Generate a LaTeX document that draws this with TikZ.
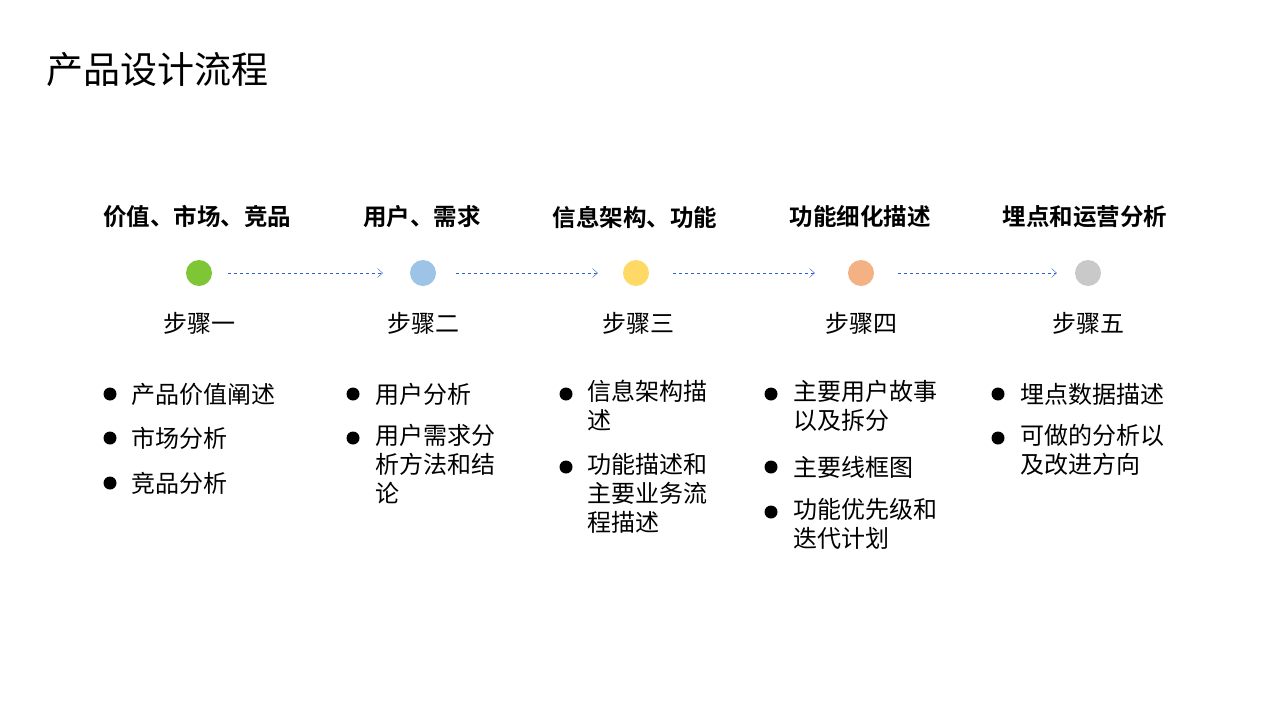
\documentclass[tikz,border=0pt]{standalone}
\usepackage{fontspec}
\setmainfont{Noto Sans CJK SC}
\newfontfamily\cjkbold{Noto Sans CJK SC Bold}
\usetikzlibrary{arrows.meta}
\definecolor{dotgreen}{HTML}{7EC636}
\definecolor{dotblue}{HTML}{9DC3E6}
\definecolor{dotyellow}{HTML}{FFD966}
\definecolor{dotorange}{HTML}{F4B183}
\definecolor{dotgray}{HTML}{C9C9C9}
\definecolor{flowblue}{HTML}{2F5FD0}
\tikzset{
  stepdot/.style={circle, minimum size=26pt, inner sep=0pt},
  heading/.style={font=\cjkbold\fontsize{23.5}{28}\selectfont},
  steplabel/.style={font=\fontsize{24}{28}\selectfont},
  item/.style={anchor=west, font=\fontsize{24}{29}\selectfont, inner sep=0pt},
  block/.style={item, anchor=north west, align=left},
  bullet/.style={circle, fill=black, minimum size=13pt, inner sep=0pt},
  flow/.style={flowblue, dashed, -{Straight Barb[length=5pt,width=9pt]}}
}
\begin{document}
\begin{tikzpicture}[x=1pt,y=-1pt]
  \useasboundingbox[fill=white] (0,0) rectangle (1280,720);

  \node[anchor=west, inner sep=0pt, font=\fontsize{37}{42}\selectfont] (title) at (46,70) {产品设计流程};

  % steps
  \node[stepdot, fill=dotgreen]  (s1) at (199,273) {};
  \node[stepdot, fill=dotblue]   (s2) at (423,273) {};
  \node[stepdot, fill=dotyellow] (s3) at (636,273) {};
  \node[stepdot, fill=dotorange] (s4) at (861,273) {};
  \node[stepdot, fill=dotgray]   (s5) at (1088,273) {};

  \draw[flow] ([xshift=16pt]s1.east) -- ([xshift=-27pt]s2.west);
  \draw[flow] ([xshift=20pt]s2.east) -- ([xshift=-25pt]s3.west);
  \draw[flow] ([xshift=24pt]s3.east) -- ([xshift=-33pt]s4.west);
  \draw[flow] ([xshift=24pt]s4.east) -- ([xshift=-18pt]s5.west);

  \node[heading] (h1) at (197,217) {价值、市场、竞品};
  \node[heading] (h2) at (422,217) {用户、需求};
  \node[heading] (h3) at (635,217) {信息架构、功能};
  \node[heading] (h4) at (860,217) {功能细化描述};
  \node[heading] (h5) at (1085,217) {埋点和运营分析};

  \node[steplabel] (l1) at (199,323) {步骤一};
  \node[steplabel] (l2) at (423,323) {步骤二};
  \node[steplabel] (l3) at (638,323) {步骤三};
  \node[steplabel] (l4) at (861,323) {步骤四};
  \node[steplabel] (l5) at (1088,323) {步骤五};

  % column 1
  \foreach \y/\t [count=\i] in {394/产品价值阐述, 438/市场分析, 483/竞品分析}{
    \node[bullet] (b1\i) at (110,\y) {};
    \node[item] (t1\i) at (131,\y) {\t};
  }
  % column 2
  \node[bullet] (b21) at (353,394) {};
  \node[item] (t21) at (375,394) {用户分析};
  \node[bullet] (b22) at (353,438) {};
  \node[block] (t22) at (375,424) {用户需求分\\析方法和结\\论};
  % column 3
  \node[bullet] (b31) at (566,394) {};
  \node[block] (t31) at (587,380) {信息架构描\\述};
  \node[bullet] (b32) at (566,467) {};
  \node[block] (t32) at (587,453) {功能描述和\\主要业务流\\程描述};
  % column 4
  \node[bullet] (b41) at (771,394) {};
  \node[block] (t41) at (793,380) {主要用户故事\\以及拆分};
  \node[bullet] (b42) at (771,467) {};
  \node[item] (t42) at (793,467) {主要线框图};
  \node[bullet] (b43) at (771,512) {};
  \node[block] (t43) at (793,498) {功能优先级和\\迭代计划};
  % column 5
  \node[bullet] (b51) at (998,394) {};
  \node[item] (t51) at (1020,394) {埋点数据描述};
  \node[bullet] (b52) at (998,438) {};
  \node[block] (t52) at (1020,424) {可做的分析以\\及改进方向};
\end{tikzpicture}
\end{document}
